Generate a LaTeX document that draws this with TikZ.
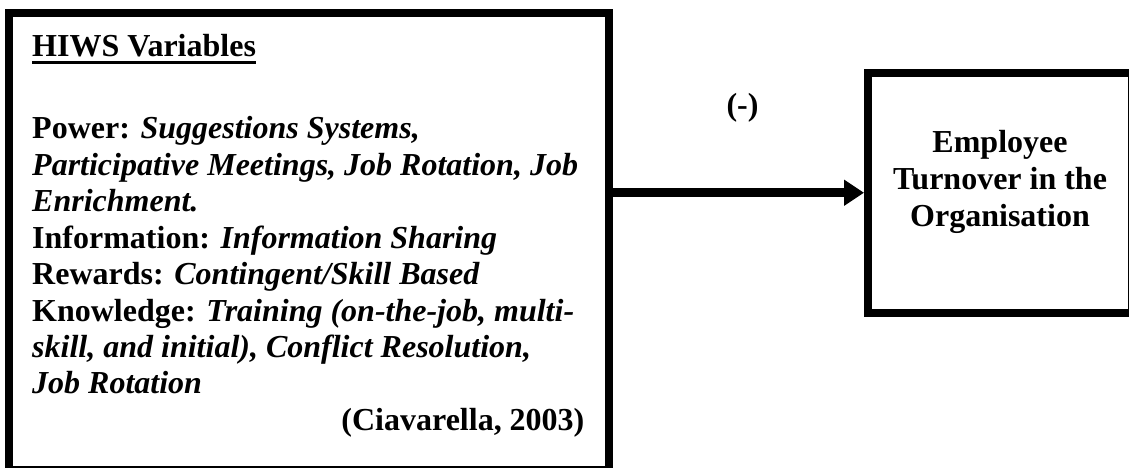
\documentclass[tikz,border=0pt]{standalone}
\usepackage{fontspec}
\setmainfont{Liberation Serif}
\usetikzlibrary{arrows.meta}
\tikzset{
  boxframe/.style={draw=black, line width=8pt, inner sep=0pt},
  txt/.style={font=\fontsize{32}{36.6}\selectfont\bfseries, inner sep=0pt, anchor=base west},
  ctxt/.style={font=\fontsize{32}{36.6}\selectfont\bfseries, inner sep=0pt, anchor=base},
  rtxt/.style={font=\fontsize{32}{36.6}\selectfont\bfseries, inner sep=0pt, anchor=base east},
  conn/.style={line width=9pt, -{Triangle[length=20pt,width=25pt]}}
}
\begin{document}
\begin{tikzpicture}[x=1pt, y=-1pt]
\useasboundingbox (0,0) rectangle (1129,468);
% boxes
\node[boxframe, minimum width=600.5pt, minimum height=457pt] (lbox) at (308.75,241.5) {};
\node[boxframe, minimum width=264pt, minimum height=239.5pt] (rbox) at (1000,192.75) {};
% left box text
\node[txt] (t1) at (32,56.5) {HIWS Variables};
\draw[line width=3.2pt] ([yshift=-5.8pt]t1.base west) -- ([yshift=-5.8pt]t1.base east);
\node[txt] (t3) at (32,139.0) {Power: \textit{Suggestions Systems,}};
\node[txt] (t4) at (32,175.4) {\textit{Participative Meetings, Job Rotation, Job}};
\node[txt] (t5) at (32,211.8) {\textit{Enrichment.}};
\node[txt] (t6) at (32,248.2) {Information: \textit{Information Sharing}};
\node[txt] (t7) at (32,284.6) {Rewards: \textit{Contingent/Skill Based}};
\node[txt] (t8) at (32,321.0) {Knowledge: \textit{Training (on-the-job, multi-}};
\node[txt] (t9) at (32,357.4) {\textit{skill, and initial), Conflict Resolution,}};
\node[txt] (t10) at (32,393.8) {\textit{Job Rotation}};
\node[rtxt] (t11) at (584.6,430.2) {(Ciavarella, 2003)};
% right box text
\node[ctxt] (r1) at (1000,152.8) {Employee};
\node[ctxt] (r2) at (1000,189.4) {Turnover in the};
\node[ctxt] (r3) at (1000,226.0) {Organisation};
% connector
\draw[conn] (lbox.east |- rbox.west) -- (rbox.west);
\node[ctxt] (minus) at (742.5,116) {(-)};
\end{tikzpicture}
\end{document}
